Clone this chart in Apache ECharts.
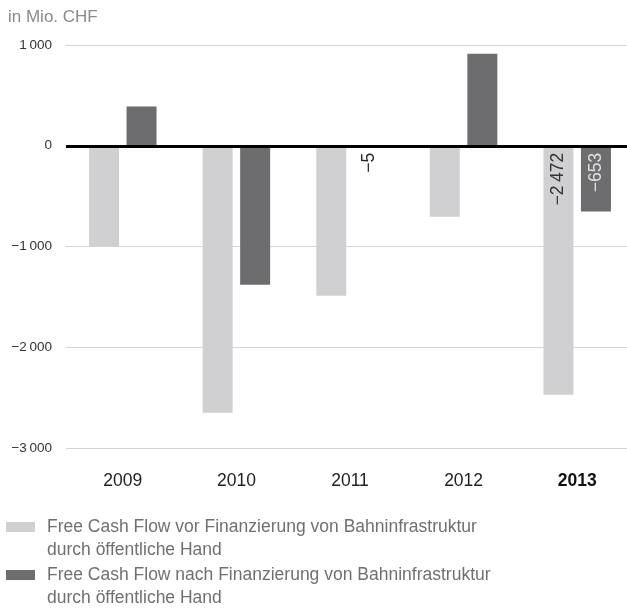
<!DOCTYPE html>
<html>
<head>
<meta charset="utf-8">
<script src="https://cdn.jsdelivr.net/npm/echarts@6/dist/echarts.min.js"></script>
<style>
  html, body { margin: 0; padding: 0; background: #fff; }
  #chart { width: 627px; height: 610px; }
</style>
</head>
<body>
<div id="chart"></div>
<script>
var years = ['2009', '2010', '2011', '2012', '2013'];
var vorFinanzierung = [-1000, -2650, -1490, -705, -2472];
var nachFinanzierung = [390, -1380, -5, 914, -653];
// which bars carry a value label, and its colour
var labelsVor = { 4: '#333' };
var labelsNach = { 2: '#222', 4: '#e2e2e2' };
var yTicks = [-3000, -2000, -1000, 0, 1000];

var FONT = '"Liberation Sans", Arial, sans-serif';

function fmt(v) {
    var s = String(Math.abs(v));
    if (s.length > 3) s = s.slice(0, s.length - 3) + '\u2009' + s.slice(s.length - 3);
    return (v < 0 ? '\u2212' : '') + s;
}

function barData(values, labels) {
    return values.map(function (v, i) {
        var item = { value: v };
        if (labels[i]) {
            item.label = {
                show: true,
                position: 'insideTop',
                distance: 7,
                rotate: 90,
                align: 'right',
                verticalAlign: 'middle',
                color: labels[i],
                fontSize: 17.5,
                fontFamily: FONT,
                formatter: function (p) { return fmt(p.value); }
            };
        }
        return item;
    });
}

var dom = document.getElementById('chart');
var myChart = echarts.init(dom, null, { renderer: 'canvas' });

myChart.setOption({
    animation: false,
    textStyle: { fontFamily: FONT },
    title: {
        text: 'in Mio. CHF',
        left: 3,
        top: 4,
        textStyle: { color: '#8a8a8a', fontSize: 17, fontWeight: 'normal', fontFamily: FONT }
    },
    grid: { left: 66, width: 568, top: 45, bottom: 162, outerBoundsMode: 'none' },
    legend: {
        orient: 'vertical',
        left: 6,
        top: 517,
        padding: 0,
        itemWidth: 29,
        itemHeight: 10,
        itemGap: 28,
        icon: 'rect',
        textStyle: {
            color: '#707070',
            fontSize: 17.5,
            fontFamily: FONT,
            lineHeight: 20,
            padding: [0, 0, 0, 7]
        },
        data: [
            'Free Cash Flow vor Finanzierung von Bahninfrastruktur',
            'Free Cash Flow nach Finanzierung von Bahninfrastruktur'
        ]
    },
    graphic: [
        {
            type: 'text', left: 47, top: 541,
            style: { text: 'durch öffentliche Hand', fill: '#707070', font: '17.5px ' + FONT }
        },
        {
            type: 'text', left: 47, top: 589,
            style: { text: 'durch öffentliche Hand', fill: '#707070', font: '17.5px ' + FONT }
        }
    ],
    xAxis: {
        type: 'category',
        data: years,
        axisLine: { show: false },
        axisTick: { show: false },
        axisLabel: {
            margin: 24,
            fontSize: 17.5,
            fontFamily: FONT,
            color: '#222',
            formatter: function (v) { return v === '2013' ? '{b|' + v + '}' : v; },
            rich: { b: { fontWeight: 'bold', fontSize: 17.5, color: '#111', fontFamily: FONT } }
        }
    },
    yAxis: {
        type: 'value',
        min: yTicks[0],
        max: yTicks[yTicks.length - 1],
        interval: 1000,
        axisLine: { show: false },
        axisTick: { show: false },
        axisLabel: {
            margin: 14,
            fontSize: 13.5,
            fontFamily: FONT,
            color: '#333',
            formatter: function (v) { return fmt(v); }
        },
        splitLine: { lineStyle: { color: '#d4d4d4', width: 1 } }
    },
    series: [
        {
            name: 'Free Cash Flow vor Finanzierung von Bahninfrastruktur',
            type: 'bar',
            barWidth: 30,
            barGap: '25%',
            itemStyle: { color: '#d0d0d2' },
            data: barData(vorFinanzierung, labelsVor),
            markLine: {
                silent: true,
                symbol: 'none',
                label: { show: false },
                lineStyle: { color: '#000', width: 3, type: 'solid' },
                data: [{ yAxis: 0 }]
            }
        },
        {
            name: 'Free Cash Flow nach Finanzierung von Bahninfrastruktur',
            type: 'bar',
            barWidth: 30,
            barGap: '25%',
            itemStyle: { color: '#6d6d70' },
            data: barData(nachFinanzierung, labelsNach)
        }
    ]
});
</script>
</body>
</html>
